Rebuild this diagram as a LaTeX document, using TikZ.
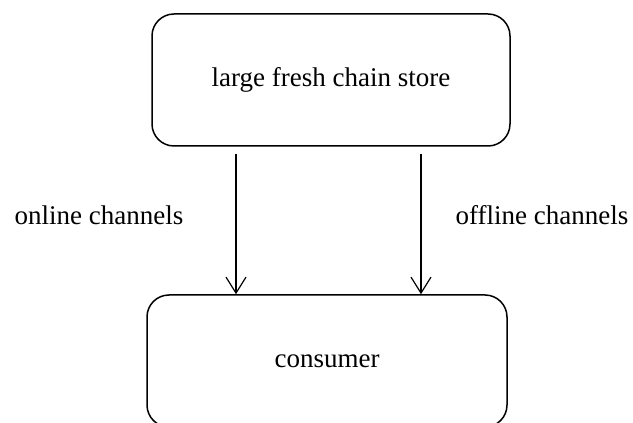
\documentclass[tikz,border=0pt]{standalone}
\usepackage{fontspec}
\setmainfont{Liberation Serif}
\usetikzlibrary{arrows.meta}

\tikzset{
	box/.style={draw, line width=1.5pt, rounded corners=22pt, minimum width=358pt, minimum height=132pt, font=\fontsize{27}{32}\selectfont},
	channel/.style={line width=1.2pt, -{Straight Barb[length=16pt,width=20pt,line width=1.2pt]}},
	lbl/.style={font=\fontsize{27}{32}\selectfont, anchor=base}
}

\begin{document}
\begin{tikzpicture}[x=1pt,y=1pt]
		\useasboundingbox (0,0) rectangle (633,423);
		\node[box] (store) at (331,343) {large fresh chain store};
		\node[box, minimum width=360pt] (cons) at (327,62) {consumer};
		
		\draw[channel] ([xshift=-95pt,yshift=-7pt]store.south) -- ([xshift=-95pt]store.south |- cons.north);
		\draw[channel] ([xshift=90pt,yshift=-7pt]store.south) -- ([xshift=90pt]store.south |- cons.north);
		
		\node[lbl] (online) at (99,198) {online channels};
		\node[lbl] (offline) at (542,198) {offline channels};
	\end{tikzpicture}
\end{document}
